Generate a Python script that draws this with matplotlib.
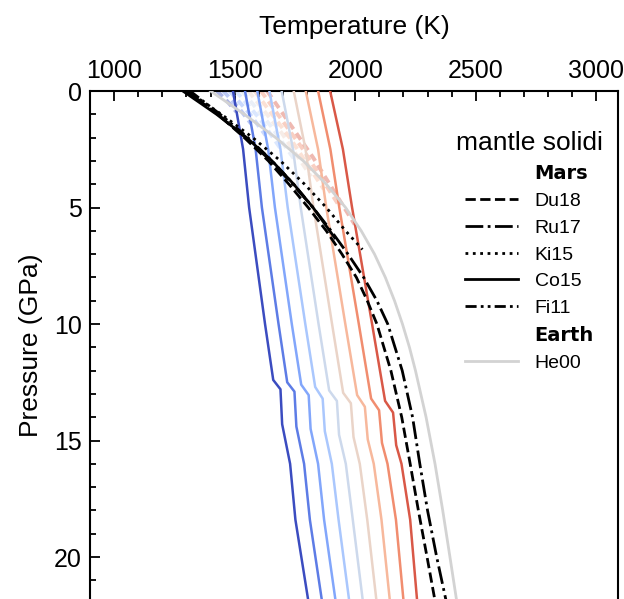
import numpy as np
import matplotlib
matplotlib.use('Agg')
import matplotlib.pyplot as plt
from matplotlib.lines import Line2D
from matplotlib.ticker import MultipleLocator

plt.rcParams['font.family'] = ['Liberation Sans', 'DejaVu Sans']

# ---------------- data ----------------
# mantle geotherms (potential temperature 1500 ... 1900 K), solid parts
geo_P = [
    [0, 2.5, 5, 10, 12.4, 12.8, 14.3, 16.0, 18.4, 22.5],
    [0, 2.5, 5, 10, 12.5, 12.9, 14.4, 16.0, 18.4, 22.5],
    [0, 2.5, 5, 10, 12.6, 13.05, 14.5, 16.0, 18.4, 22.5],
    [0, 2.5, 5, 10, 12.7, 13.2, 14.6, 16.0, 18.4, 22.5],
    [0, 2.5, 5, 10, 12.85, 13.3, 14.75, 16.0, 18.4, 22.5],
    [0, 2.5, 5, 10, 12.95, 13.4, 14.85, 16.0, 18.4, 22.5],
    [0, 2.5, 5, 10, 13.05, 13.55, 14.95, 16.0, 18.4, 22.5],
    [0, 2.5, 5, 10, 13.2, 13.7, 15.1, 16.0, 18.4, 22.5],
    [0, 2.5, 5, 10, 13.3, 13.8, 15.2, 16.0, 18.4, 22.5],
]
geo_T = [
    [1493, 1535, 1560, 1626, 1660, 1690, 1697, 1730, 1752, 1815],
    [1543, 1587, 1613, 1682, 1718, 1748, 1756, 1788, 1812, 1871],
    [1594, 1639, 1667, 1737, 1776, 1807, 1815, 1846, 1871, 1927],
    [1644, 1690, 1720, 1793, 1834, 1865, 1874, 1903, 1931, 1983],
    [1695, 1742, 1774, 1848, 1892, 1924, 1933, 1961, 1990, 2039],
    [1745, 1794, 1827, 1904, 1950, 1982, 1993, 2019, 2050, 2095],
    [1795, 1846, 1880, 1959, 2008, 2040, 2052, 2077, 2109, 2150],
    [1846, 1897, 1934, 2015, 2066, 2099, 2111, 2134, 2169, 2206],
    [1896, 1949, 1987, 2070, 2124, 2157, 2170, 2192, 2228, 2262],
]
# shallow melting paths (faded dashed)
melt_P = [
    [0, 0.45, 0.9],
    [0, 0.7, 1.4],
    [0, 0.95, 1.9],
    [0, 1.2, 2.45],
    [0, 1.5, 3.0],
    [0, 1.8, 3.67],
    [0, 2.1, 4.21],
    [0, 2.45, 4.92],
    [0, 2.85, 5.73],
]
melt_T = [
    [1427, 1470, 1508],
    [1453, 1515, 1568],
    [1479, 1560, 1628],
    [1505, 1605, 1689],
    [1531, 1650, 1752],
    [1557, 1695, 1817],
    [1583, 1735, 1869],
    [1609, 1780, 1933],
    [1635, 1825, 1998],
]

# solidi
du18_P = [0, 1, 2, 3, 4, 5, 6, 7, 8, 9, 10, 12, 14, 16, 18, 20, 22.5]
du18_T = [1300, 1430, 1540, 1640, 1725, 1805, 1880, 1945, 2005, 2050, 2090, 2148, 2193, 2228, 2262, 2298, 2342]
ru17_P = [0, 1, 2, 3, 4, 5, 6, 7, 8, 9, 10, 12, 14, 16, 18, 20, 22.5]
ru17_T = [1300, 1430, 1545, 1650, 1740, 1825, 1900, 1970, 2035, 2090, 2135, 2195, 2238, 2268, 2300, 2338, 2390]
ki15_P = [0, 1, 2, 3, 4, 5, 6, 6.8]
ki15_T = [1305, 1445, 1575, 1690, 1790, 1880, 1960, 2030]
co15_P = [0, 1, 2, 3, 4, 5, 6.3]
co15_T = [1285, 1425, 1550, 1655, 1745, 1825, 1915]
fi11_P = [0, 1, 2, 3, 4, 5]
fi11_T = [1315, 1440, 1555, 1655, 1745, 1825]
he00_P = [0, 1, 2, 3, 4, 5, 6, 7, 8, 9, 10, 11, 12, 14, 16, 18, 20, 22.5]
he00_T = [1400, 1540, 1670, 1785, 1880, 1960, 2025, 2080, 2125, 2163, 2196,
          2225, 2250, 2294, 2331, 2363, 2393, 2430]

x_ticks = [1000, 1500, 2000, 2500, 3000]
y_ticks = [0, 5, 10, 15, 20]

# ---------------- figure ----------------
fig = plt.figure(figsize=(6.24, 5.99), dpi=100)
ax = fig.add_axes([90 / 624, 0.0, 528 / 624, 1 - 91 / 599])

cols = plt.cm.coolwarm(np.linspace(0, 1, 10)[:9])

for i in range(len(geo_T)):
    ax.plot(melt_T[i], melt_P[i], color=cols[i], lw=2.8, alpha=0.42,
            ls=(0, (2, 1.3)), zorder=2)
for i in range(len(geo_T)):
    ax.plot(geo_T[i], geo_P[i], color=cols[i], lw=1.8, zorder=3)

ax.plot(he00_T, he00_P, color='#d3d3d3', lw=2, zorder=4)
ax.plot(du18_T, du18_P, color='k', lw=2, ls='--', zorder=5)
ax.plot(ru17_T, ru17_P, color='k', lw=2, ls='-.', zorder=5)
ax.plot(ki15_T, ki15_P, color='k', lw=2, ls=':', zorder=5)
ax.plot(co15_T, co15_P, color='k', lw=2, ls='-', zorder=5)
fdash = (0, (4, 1.5, 1, 1.5, 1, 1.5))
ax.plot(fi11_T, fi11_P, color='k', lw=2, ls=fdash, zorder=5)

ax.set_xlim(900, 3090)
ax.set_ylim(21.8, 0)
ax.xaxis.tick_top()
ax.xaxis.set_label_position('top')
ax.set_xticks(x_ticks)
ax.set_yticks(y_ticks)
ax.xaxis.set_minor_locator(MultipleLocator(100))
ax.yaxis.set_minor_locator(MultipleLocator(1))
ax.tick_params(which='both', direction='in', top=True, bottom=False,
               left=True, right=False, labelsize=18, width=1.3)
ax.tick_params(which='major', length=7, pad=6)
ax.tick_params(which='minor', length=4)
for s in ['top', 'left', 'right']:
    ax.spines[s].set_linewidth(1.5)
ax.spines['bottom'].set_visible(False)
ax.set_xlabel('Temperature (K)', fontsize=19, labelpad=18)
ax.set_ylabel('Pressure (GPa)', fontsize=19, labelpad=8)

blank = Line2D([], [], color='none')
handles = [blank,
           Line2D([], [], color='k', lw=2, ls='--'),
           Line2D([], [], color='k', lw=2, ls='-.'),
           Line2D([], [], color='k', lw=2, ls=':'),
           Line2D([], [], color='k', lw=2, ls='-'),
           Line2D([], [], color='k', lw=2, ls=fdash),
           blank,
           Line2D([], [], color='#d3d3d3', lw=2)]
labels = ['Mars', 'Du18', 'Ru17', 'Ki15', 'Co15', 'Fi11', 'Earth', 'He00']
leg = ax.legend(handles, labels, title='mantle solidi', loc='upper right',
                bbox_to_anchor=(513 / 528, 0.921), frameon=False,
                fontsize=14, title_fontsize=19, handlelength=2.7,
                handletextpad=0.87, labelspacing=0.47, borderpad=0,
                borderaxespad=0)
for t in leg.get_texts():
    if t.get_text() in ('Mars', 'Earth'):
        t.set_fontweight('bold')
        t.set_family('DejaVu Sans')

fig.savefig('out.png', dpi=100)
